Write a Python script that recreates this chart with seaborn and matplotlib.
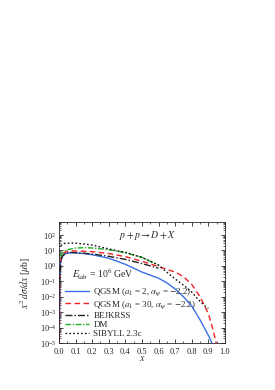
import numpy as np
import pandas as pd
import seaborn as sns
import matplotlib.pyplot as plt
from matplotlib.ticker import MultipleLocator, LogLocator, NullFormatter

x_qgsm2 = [0.002, 0.005, 0.01, 0.02, 0.04, 0.07, 0.1, 0.15, 0.2, 0.3, 0.4, 0.5,
           0.6, 0.65, 0.7, 0.75, 0.8, 0.85, 0.9, 0.93, 0.95]
lg_qgsm2 = [-5.0, -1.0, 0.2, 0.6, 0.8, 0.85, 0.84, 0.8, 0.72, 0.5, 0.1, -0.4,
            -0.8, -1.1, -1.5, -2.0, -2.6, -3.5, -4.5, -5.2, -5.6]

x_qgsm30 = [0.002, 0.005, 0.01, 0.02, 0.04, 0.07, 0.1, 0.15, 0.2, 0.3, 0.4, 0.5,
            0.6, 0.7, 0.75, 0.8, 0.85, 0.9, 0.93, 0.96]
lg_qgsm30 = [-5.0, -0.8, 0.35, 0.75, 0.92, 0.97, 0.97, 0.95, 0.92, 0.8, 0.6, 0.3,
             -0.05, -0.4, -0.7, -1.2, -2.0, -3.1, -4.2, -5.6]

x_bejkrss = [0.003, 0.005, 0.01, 0.02, 0.04, 0.07, 0.1, 0.15, 0.2, 0.3, 0.4, 0.5, 0.6]
lg_bejkrss = [-2.0, -0.9, 0.3, 0.65, 0.82, 0.87, 0.86, 0.82, 0.77, 0.62, 0.42, 0.15, -0.15]

x_dm = [0.01, 0.02, 0.05, 0.1, 0.15, 0.2, 0.3, 0.4, 0.5, 0.6]
lg_dm = [0.6, 0.85, 1.05, 1.15, 1.18, 1.16, 1.05, 0.85, 0.55, 0.05]

x_sibyll = [0.01, 0.03, 0.07, 0.1, 0.15, 0.2, 0.3, 0.4, 0.5, 0.6, 0.66, 0.7,
            0.76, 0.8, 0.84, 0.88, 0.9]
lg_sibyll = [1.3, 1.45, 1.48, 1.47, 1.42, 1.35, 1.1, 0.88, 0.55, 0.05, -0.5, -0.85,
             -1.33, -1.7, -2.2, -2.6, -2.75]

labels = [r"QGSM ($a_1$ = 2, $\alpha_\psi$ = $-$2.2)",
          r"QGSM ($a_1$ = 30, $\alpha_\psi$ = $-$2.2)",
          "BEJKRSS", "DM", "SIBYLL 2.3c"]

sns.set_style("ticks")
plt.rcParams['font.family'] = ['Liberation Serif', 'DejaVu Serif']
plt.rcParams['mathtext.fontset'] = 'stix'
plt.rcParams['font.size'] = 6

fig = plt.figure(figsize=(2.75, 3.9), dpi=100)
ax = fig.add_axes([0.2145, 0.1205, 0.6035, 0.3103])

series = [
    (x_qgsm2, lg_qgsm2, "#3a6fe8", "-"),
    (x_qgsm30, lg_qgsm30, "#ee2222", (0, (4, 2.5))),
    (x_bejkrss, lg_bejkrss, "#222222", (0, (5, 1.5, 1, 1.5))),
    (x_dm, lg_dm, "#22aa22", (0, (4, 1.2, 1, 1.2))),
    (x_sibyll, lg_sibyll, "#111111", (0, (1.2, 1.6))),
]
for (xs, lg, col, ls), lab in zip(series, labels):
    df = pd.DataFrame({"x": xs, "y": 10.0 ** np.array(lg)})
    sns.lineplot(data=df, x="x", y="y", ax=ax, color=col, linestyle=ls,
                 linewidth=1.0, label=lab, sort=False)

ax.set_yscale("log")
ax.set_xlim(0.0, 1.0)
ax.set_ylim(1e-5, 7e2)
ax.xaxis.set_major_locator(MultipleLocator(0.1))
ax.xaxis.set_minor_locator(MultipleLocator(0.05))
ax.yaxis.set_major_locator(LogLocator(base=10, numticks=12))
ax.yaxis.set_minor_locator(LogLocator(base=10, subs=np.arange(2, 10), numticks=12))
ax.yaxis.set_minor_formatter(NullFormatter())
ax.set_yticks([10.0 ** k for k in range(-5, 3)])
ax.tick_params(which="both", direction="in", top=True, right=True, labelsize=6)
ax.tick_params(axis="x", pad=3.5)
ax.tick_params(axis="y", pad=2)
ax.tick_params(which="major", length=3, width=0.6)
ax.tick_params(which="minor", length=1.6, width=0.5)
for s in ax.spines.values():
    s.set_linewidth(0.6)

ax.set_xlabel("$x$", fontsize=7, labelpad=-1)
ax.set_ylabel(r"$x^2\,d\sigma/dx$ [$\mu$b]", fontsize=7, labelpad=5)

ax.text(0.53, 1e2, r"$p + p \rightarrow D + X$", fontsize=7, ha="center", va="center")
ax.text(0.08, 10 ** -0.55, r"$E_{\rm lab}$ = 10$^6$ GeV", fontsize=7, ha="left", va="center")

ax.legend(loc="lower left", bbox_to_anchor=(0.0, -0.01), frameon=False, fontsize=6.5,
          handlelength=2.6, handletextpad=0.5, labelspacing=0.08, borderaxespad=0.3)

fig.savefig("out.png", dpi=100)
